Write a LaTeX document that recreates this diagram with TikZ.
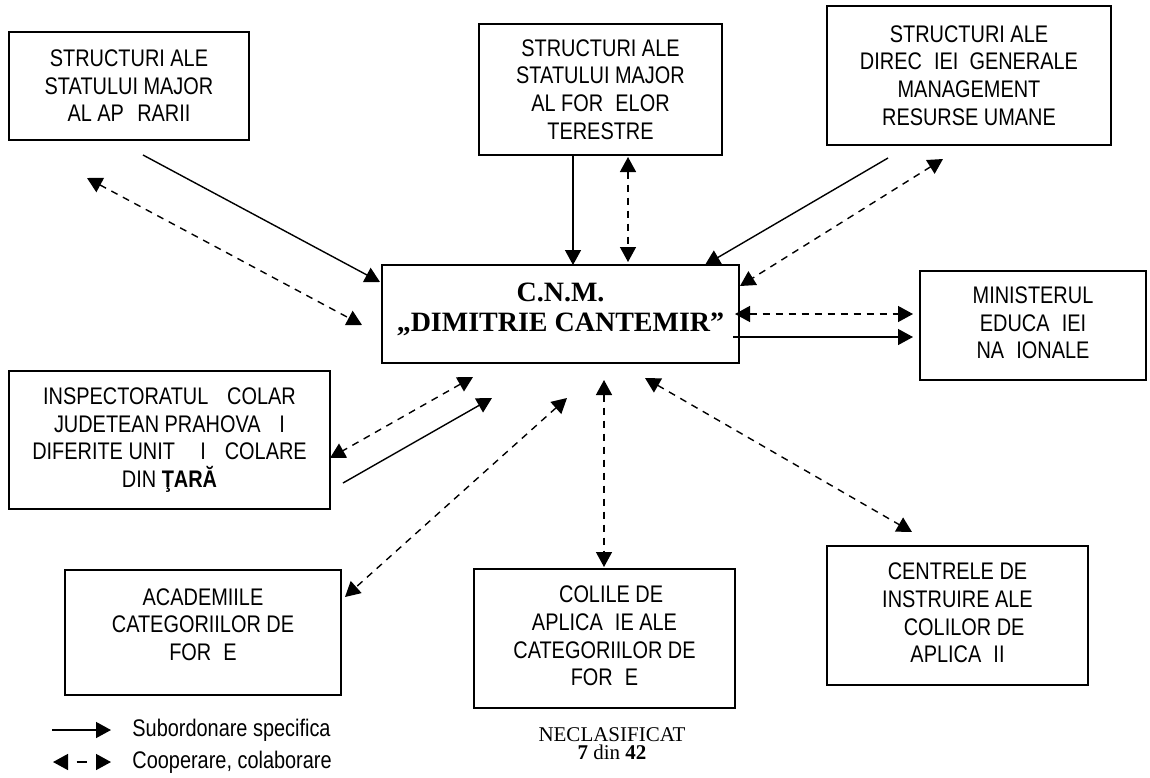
\documentclass[tikz,border=0pt]{standalone}
\usepackage{fontspec}
\setmainfont{Liberation Serif}
\newfontfamily\boxfont[FakeStretch=0.83]{Liberation Sans}
\usetikzlibrary{arrows.meta}

\begin{document}
\begin{tikzpicture}[x=0.5pt,y=-0.5pt]

    \tikzset{
      BoxStyle/.style = { rectangle, draw, line width=0.7pt, align=center,
                          inner sep=0pt, font = \boxfont\fontsize{12}{13.8}\selectfont },
      SubStyle/.style = { line width=0.7pt, -{Triangle[length=7.5pt,width=8pt]} },
      CoopStyle/.style = { line width=0.7pt, dash pattern=on 3.5pt off 3pt,
                           {Triangle[length=7.5pt,width=8pt]}-{Triangle[length=7.5pt,width=8pt]} } }
      \useasboundingbox (0,0) rectangle (1150,777);

      % boxes
      \node[BoxStyle, minimum width=120pt, minimum height=54pt] (sma) at (129,86)
        {STRUCTURI ALE\\STATULUI MAJOR\\AL AP\phantom{Ă}RARII};
      \node[BoxStyle, minimum width=121.5pt, minimum height=65.5pt] (smft) at (600.5,89.5)
        {STRUCTURI ALE\\STATULUI MAJOR\\AL FOR\phantom{Ţ}ELOR\\TERESTRE};
      \node[BoxStyle, minimum width=142pt, minimum height=69.5pt] (dgmru) at (969,75.5)
        {STRUCTURI ALE\\DIREC\phantom{Ţ}IEI\ \ GENERALE\\MANAGEMENT\\RESURSE UMANE};
      \node[BoxStyle, minimum width=178.5pt, minimum height=49pt, text depth=6.5pt,
            font = \bfseries\fontsize{14}{15}\selectfont] (cnm) at (560.5,314)
        {C.N.M.\\„DIMITRIE CANTEMIR”};
      \node[BoxStyle, minimum width=113pt, minimum height=54.5pt] (men) at (1033,325.5)
        {MINISTERUL\\EDUCA\phantom{Ţ}IEI\\NA\phantom{Ţ}IONALE};
      \node[BoxStyle, minimum width=160.5pt, minimum height=69pt] (isj) at (169.5,440)
        {INSPECTORATUL \phantom{Ş}COLAR\\JUDETEAN PRAHOVA \phantom{Ş}I\\
         DIFERITE UNIT\phantom{ĂŢ}I \phantom{Ş}COLARE\\DIN \textbf{ŢARĂ}};
      \node[BoxStyle, minimum width=138pt, minimum height=62.5pt, text depth=8pt] (acad) at (203,632.5)
        {ACADEMIILE\\CATEGORIILOR DE\\FOR\phantom{Ţ}E};
      \node[BoxStyle, minimum width=130.5pt, minimum height=69.5pt] (sa) at (604.5,638.5)
        {\phantom{Ş}COLILE DE\\APLICA\phantom{Ţ}IE ALE\\CATEGORIILOR DE\\FOR\phantom{Ţ}E};
      \node[BoxStyle, minimum width=130.5pt, minimum height=69.5pt] (ci) at (957.5,615.5)
        {CENTRELE DE\\INSTRUIRE ALE\\\phantom{Ş}COLILOR DE\\APLICA\phantom{Ţ}II};

      % connector ends
      \coordinate (s1) at (143,155);  \coordinate (t1) at (380,282);
      \coordinate (s2) at (87,178);   \coordinate (t2) at (362,325);
      \coordinate (s3) at (573,155);  \coordinate (t3) at (573,265);
      \coordinate (s4) at (628,157);  \coordinate (t4) at (628,262);
      \coordinate (s5) at (888,158);  \coordinate (t5) at (705,265);
      \coordinate (s6) at (943,159);  \coordinate (t6) at (740,286);
      \coordinate (s7) at (735,314);  \coordinate (t7) at (913,314);
      \coordinate (s8) at (733,337);  \coordinate (t8) at (913,337);
      \coordinate (s9) at (473,377);  \coordinate (t9) at (330,458);
      \coordinate (s10) at (343,483); \coordinate (t10) at (492,398);
      \coordinate (s11) at (567,398); \coordinate (t11) at (345,597);
      \coordinate (s12) at (604,380); \coordinate (t12) at (604,567);
      \coordinate (s13) at (645,378); \coordinate (t13) at (912,532);

      \draw[SubStyle] (s1) -- (t1);
      \draw[SubStyle] (s3) -- (t3);
      \draw[SubStyle] (s5) -- (t5);
      \draw[SubStyle] (s8) -- (t8);
      \draw[SubStyle] (s10) -- (t10);

      \draw[CoopStyle] (s2) -- (t2);
      \draw[CoopStyle] (s4) -- (t4);
      \draw[CoopStyle] (s6) -- (t6);
      \draw[CoopStyle] (s7) -- (t7);
      \draw[CoopStyle] (s9) -- (t9);
      \draw[CoopStyle] (s11) -- (t11);
      \draw[CoopStyle] (s12) -- (t12);
      \draw[CoopStyle] (s13) -- (t13);

      % legend
      \node[anchor=west, inner sep=0pt, font = \boxfont\fontsize{12}{13.8}\selectfont]
        (leg1) at (132,730) {Subordonare specifica};
      \node[anchor=west, inner sep=0pt, font = \boxfont\fontsize{12}{13.8}\selectfont]
        (leg2) at (132,762) {Cooperare, colaborare};
      \coordinate (l1) at (52,730);  \coordinate (l1e) at (111,730);
      \coordinate (l2) at (53,762);  \coordinate (l2e) at (111,762);
      \draw[SubStyle] (l1) -- (l1e);
      \draw[CoopStyle, dash pattern=on 0pt off 4.5pt on 5pt off 40pt] (l2) -- (l2e);

    \node[align=center, inner sep=0pt, font = \fontsize{10.5}{9}\selectfont] (necl) at (612,744)
      {NECLASIFICAT\\\textbf{7} din \textbf{42}};
    \end{tikzpicture}
\end{document}
